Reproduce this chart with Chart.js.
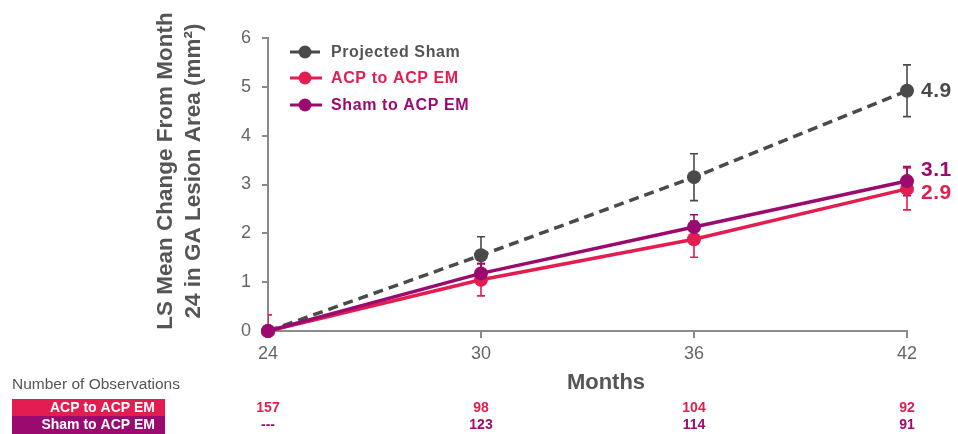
<!DOCTYPE html>
<html>
<head>
<meta charset="utf-8">
<script src="https://cdn.jsdelivr.net/npm/chart.js@4.4.1/dist/chart.umd.min.js"></script>
<style>
  html, body { margin: 0; padding: 0; background: #ffffff; }
  #wrap { position: relative; width: 958px; height: 434px; }
</style>
</head>
<body>
<div id="wrap"><canvas id="chart" width="958" height="434"></canvas></div>
<script>
// data
const months = [24, 30, 36, 42];
const projectedSham = [0, 1.55, 3.15, 4.92];
const projectedShamErr = [0, 0.38, 0.48, 0.53];
const acpToAcp = [0, 1.05, 1.88, 2.91];
const acpToAcpErr = [0.33, 0.33, 0.37, 0.43];
const shamToAcp = [0, 1.18, 2.13, 3.07];
const shamToAcpErr = [0, 0.2, 0.25, 0.3];
const yTicks = [0, 1, 2, 3, 4, 5, 6];
const endLabels = ['4.9', '2.9', '3.1'];
const seriesNames = ['Projected Sham', 'ACP to ACP EM', 'Sham to ACP EM'];
const obsAcp = ['157', '98', '104', '92'];
const obsSham = ['---', '123', '114', '91'];

const GREY = '#4a4a4a';
const RED = '#e31d4f';
const PURPLE = '#9b0b6f';
const AXIS = '#8a8a8a';
const FONT = '"Liberation Sans", Arial, sans-serif';

const toPts = (vals) => vals.map((v, i) => ({ x: months[i], y: v }));

// error bars, clipped to plot area, drawn under lines
const errorBars = {
  id: 'errorBars',
  beforeDatasetsDraw(chart) {
    const { ctx, chartArea, scales: { x, y } } = chart;
    const errs = [projectedShamErr, acpToAcpErr, shamToAcpErr];
    ctx.save();
    ctx.beginPath();
    ctx.rect(chartArea.left, chartArea.top - 20, chartArea.right - chartArea.left + 20, chartArea.bottom - chartArea.top + 20);
    ctx.clip();
    chart.data.datasets.forEach((ds, di) => {
      ctx.strokeStyle = ds.borderColor;
      ctx.lineWidth = 1.6;
      ds.data.forEach((p, i) => {
        const e = errs[di][i];
        if (!e) return;
        const px = x.getPixelForValue(p.x);
        const top = y.getPixelForValue(p.y + e);
        const bot = Math.min(y.getPixelForValue(p.y - e), chartArea.bottom);
        ctx.beginPath();
        ctx.moveTo(px, top); ctx.lineTo(px, bot);
        ctx.moveTo(px - 4, top); ctx.lineTo(px + 4, top);
        if (y.getPixelForValue(p.y - e) <= chartArea.bottom) {
          ctx.moveTo(px - 4, bot); ctx.lineTo(px + 4, bot);
        }
        ctx.stroke();
      });
    });
    ctx.restore();
  }
};

// legend, end labels, axis titles and observation table
const decorations = {
  id: 'decorations',
  afterDraw(chart) {
    const { ctx, scales: { x, y } } = chart;
    ctx.save();

    // legend inside plot
    const colors = [GREY, RED, PURPLE];
    const legendText = ['#555', RED, PURPLE];
    const legendY = [52, 78, 105];
    seriesNames.forEach((name, i) => {
      const ly = legendY[i];
      ctx.strokeStyle = colors[i];
      ctx.lineWidth = 3;
      ctx.beginPath();
      if (i === 0) {
        ctx.moveTo(290, ly); ctx.lineTo(299, ly);
        ctx.moveTo(311, ly); ctx.lineTo(320, ly);
      } else {
        ctx.moveTo(290, ly); ctx.lineTo(322, ly);
      }
      ctx.stroke();
      ctx.fillStyle = colors[i];
      ctx.beginPath();
      ctx.arc(305, ly, 6.5, 0, Math.PI * 2);
      ctx.fill();
      ctx.fillStyle = legendText[i];
      ctx.font = 'bold 16px ' + FONT;
      ctx.letterSpacing = '0.6px';
      ctx.textAlign = 'left';
      ctx.textBaseline = 'middle';
      ctx.fillText(name, 331, ly + 1);
      ctx.letterSpacing = '0px';
    });

    // end-of-line value labels
    const last = months.length - 1;
    const labelVals = [projectedSham[last], acpToAcp[last], shamToAcp[last]];
    const offsets = [0, 4, -11];
    ctx.font = 'bold 21px ' + FONT;
    ctx.letterSpacing = '0.5px';
    ctx.textAlign = 'left';
    ctx.textBaseline = 'middle';
    endLabels.forEach((t, i) => {
      ctx.fillStyle = colors[i];
      ctx.fillText(t, x.getPixelForValue(months[last]) + 14, y.getPixelForValue(labelVals[i]) + offsets[i]);
    });
    ctx.letterSpacing = '0px';

    // y axis title
    ctx.fillStyle = '#555';
    ctx.font = 'bold 22.5px ' + FONT;
    ctx.textAlign = 'center';
    ctx.textBaseline = 'middle';
    ctx.save();
    ctx.translate(166, 171);
    ctx.rotate(-Math.PI / 2);
    ctx.fillText('LS Mean Change From Month', 0, 0);
    ctx.restore();
    ctx.save();
    ctx.translate(194, 171);
    ctx.rotate(-Math.PI / 2);
    ctx.fillText('24 in GA Lesion Area (mm\u00B2)', 0, 0);
    ctx.restore();

    // x axis title
    ctx.font = 'bold 22px ' + FONT;
    ctx.fillText('Months', 606, 383);

    // observations table
    ctx.font = '15.5px ' + FONT;
    ctx.textAlign = 'left';
    ctx.fillStyle = '#555';
    ctx.fillText('Number of Observations', 12, 385);

    ctx.fillStyle = RED;
    ctx.fillRect(12, 399, 153, 17);
    ctx.fillStyle = PURPLE;
    ctx.fillRect(12, 416, 153, 18);
    ctx.font = 'bold 14px ' + FONT;
    ctx.textAlign = 'right';
    ctx.fillStyle = '#ffffff';
    ctx.fillText('ACP to ACP EM', 155, 408);
    ctx.fillText('Sham to ACP EM', 155, 425);

    ctx.textAlign = 'center';
    months.forEach((m, i) => {
      const px = x.getPixelForValue(m);
      ctx.fillStyle = RED;
      ctx.fillText(obsAcp[i], px, 408);
      ctx.fillStyle = PURPLE;
      ctx.fillText(obsSham[i], px, 425);
    });

    ctx.restore();
  }
};

new Chart(document.getElementById('chart'), {
  type: 'line',
  data: {
    datasets: [
      {
        label: seriesNames[0],
        data: toPts(projectedSham),
        borderColor: GREY,
        backgroundColor: GREY,
        borderWidth: 3.5,
        borderDash: [10, 6],
        pointRadius: 7,
        pointBorderWidth: 0,
        clip: false,
        order: 3
      },
      {
        label: seriesNames[1],
        data: toPts(acpToAcp),
        borderColor: RED,
        backgroundColor: RED,
        borderWidth: 3.5,
        pointRadius: 7,
        pointBorderWidth: 0,
        clip: false,
        order: 2
      },
      {
        label: seriesNames[2],
        data: toPts(shamToAcp),
        borderColor: PURPLE,
        backgroundColor: PURPLE,
        borderWidth: 3.5,
        pointRadius: 7,
        pointBorderWidth: 0,
        clip: false,
        order: 1
      }
    ]
  },
  options: {
    responsive: false,
    animation: false,
    layout: { padding: { top: 38, right: 51, left: 0, bottom: 0 } },
    plugins: {
      legend: { display: false },
      tooltip: { enabled: false }
    },
    scales: {
      x: {
        type: 'linear',
        min: 24,
        max: 42,
        afterBuildTicks: (s) => { s.ticks = months.map(v => ({ value: v })); },
        afterFit: (s) => { s.height = 103; },
        grid: { drawOnChartArea: false, drawTicks: true, tickLength: 7, color: AXIS, lineWidth: 2 },
        border: { color: AXIS, width: 2 },
        ticks: { color: '#666', font: { family: FONT, size: 18 }, padding: 5, maxRotation: 0 }
      },
      y: {
        min: 0,
        max: 6,
        afterBuildTicks: (s) => { s.ticks = yTicks.map(v => ({ value: v })); },
        afterFit: (s) => { s.width = 268; },
        grid: { drawOnChartArea: false, drawTicks: true, tickLength: 6, color: AXIS, lineWidth: 2 },
        border: { color: AXIS, width: 2 },
        ticks: { color: '#666', font: { family: FONT, size: 18 }, padding: 11 }
      }
    }
  },
  plugins: [errorBars, decorations]
});
</script>
</body>
</html>
